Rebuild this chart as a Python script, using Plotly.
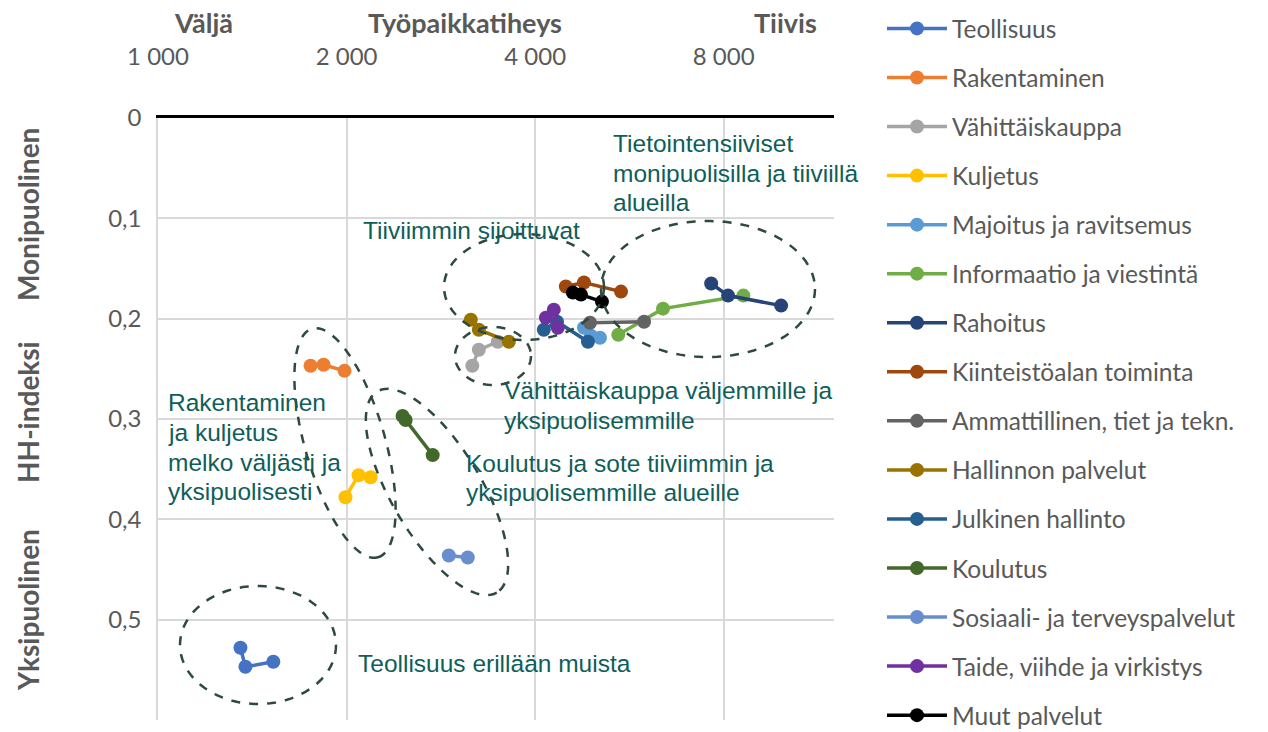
import math
import numpy as np
import plotly.graph_objects as go

# ---- data ----
series_names = [
    "Teollisuus", "Rakentaminen", "Vähittäiskauppa", "Kuljetus",
    "Majoitus ja ravitsemus", "Informaatio ja viestintä", "Rahoitus",
    "Kiinteistöalan toiminta", "Ammattillinen, tiet ja tekn.",
    "Hallinnon palvelut", "Julkinen hallinto", "Koulutus",
    "Sosiaali- ja terveyspalvelut", "Taide, viihde ja virkistys",
    "Muut palvelut",
]
series_colors = [
    "#4472C4", "#ED7D31", "#A5A5A5", "#FFC000", "#5B9BD5", "#70AD47",
    "#264478", "#9E480E", "#636363", "#997300", "#255E91", "#43682B",
    "#698ED0", "#7030A0", "#000000",
]
# työpaikkatiheys (x) per series
x_teollisuus = [1354, 1379, 1528]
x_rakentaminen = [1752, 1838, 1985]
x_vahittais = [3175, 3252, 3487]
x_kuljetus = [1992, 2090, 2185]
x_majoitus = [4786, 4911, 5077]
x_informaatio = [5430, 6400, 8600]
x_rahoitus = [7640, 8130, 9880]
x_kiinteisto = [4478, 4786, 5485]
x_ammatillinen = [4894, 5970]
x_hallinnon = [3158, 3252, 3632]
x_julkinen = [4130, 4335, 4857]
x_koulutus = [2457, 2485, 2745]
x_sosiaali = [2912, 3123]
x_taide = [4161, 4284, 4347]
x_muut = [4595, 4734, 5114]
# HH-indeksi (y) per series
y_teollisuus = [0.528, 0.547, 0.542]
y_rakentaminen = [0.247, 0.246, 0.252]
y_vahittais = [0.247, 0.231, 0.223]
y_kuljetus = [0.378, 0.356, 0.358]
y_majoitus = [0.209, 0.217, 0.219]
y_informaatio = [0.216, 0.190, 0.177]
y_rahoitus = [0.165, 0.177, 0.187]
y_kiinteisto = [0.168, 0.164, 0.173]
y_ammatillinen = [0.204, 0.203]
y_hallinnon = [0.201, 0.211, 0.223]
y_julkinen = [0.211, 0.203, 0.223]
y_koulutus = [0.297, 0.301, 0.336]
y_sosiaali = [0.436, 0.438]
y_taide = [0.199, 0.191, 0.209]
y_muut = [0.174, 0.176, 0.183]

xs = [x_teollisuus, x_rakentaminen, x_vahittais, x_kuljetus, x_majoitus,
      x_informaatio, x_rahoitus, x_kiinteisto, x_ammatillinen, x_hallinnon,
      x_julkinen, x_koulutus, x_sosiaali, x_taide, x_muut]
ys = [y_teollisuus, y_rakentaminen, y_vahittais, y_kuljetus, y_majoitus,
      y_informaatio, y_rahoitus, y_kiinteisto, y_ammatillinen, y_hallinnon,
      y_julkinen, y_koulutus, y_sosiaali, y_taide, y_muut]

x_tickvals = [1000, 2000, 4000, 8000]
y_tickvals = [0, 0.1, 0.2, 0.3, 0.4, 0.5, 0.6]

# ---- layout geometry ----
W, H = 1268, 732
ML, MR, MT, MB = 158, 434, 118, 12
PW, PH = W - ML - MR, H - MT - MB


def px(x):
    return (x - ML) / PW


def py(y):
    return (H - MB - y) / PH


fig = go.Figure()
for name, color, x, y in zip(series_names, series_colors, xs, ys):
    fig.add_trace(go.Scatter(
        x=x, y=y, name=name, mode="lines+markers",
        line=dict(color=color, width=3.5),
        marker=dict(color=color, size=14),
        legendgroup=name,
    ))

# ---- dashed ellipses (decoration) ----
ellipses = [
    (258, 645, 78, 59, 0.0),
    (345, 443, 119, 40, math.degrees(math.atan2(229, 66))),
    (437, 492, 117, 45, math.degrees(math.atan2(202, 120))),
    (524, 287, 80, 53, 0.0),
    (493, 356, 38, 29, 0.0),
    (708, 289, 107, 68, 0.0),
]
shapes = []
for cx, cy, a, b, ang in ellipses:
    t = np.linspace(0, 2 * np.pi, 90)
    th = math.radians(ang)
    ex = cx + a * np.cos(t) * math.cos(th) - b * np.sin(t) * math.sin(th)
    ey = cy + a * np.cos(t) * math.sin(th) + b * np.sin(t) * math.cos(th)
    path = "M " + " L ".join(f"{px(u):.5f},{py(v):.5f}" for u, v in zip(ex, ey)) + " Z"
    shapes.append(dict(type="path", path=path, xref="paper", yref="paper",
                       line=dict(color="#2E4A3E", width=2.5, dash="dash"),
                       layer="above"))

TEAL = "#0E5E5A"
GRAY = "#595959"
notes = [
    (["Tietointensiiviset", "monipuolisilla ja tiiviillä", "alueilla"], 611, [143, 173, 202]),
    (["Tiiviimmin sijoittuvat"], 361, [230]),
    (["Vähittäiskauppa väljemmille ja", "yksipuolisemmille"], 502, [390, 420]),
    (["Rakentaminen", "ja kuljetus", "melko väljästi ja", "yksipuolisesti"], 166, [402, 432, 462, 491]),
    (["Koulutus ja sote tiiviimmin ja", "yksipuolisemmille alueille"], 464, [463, 492]),
    (["Teollisuus erillään muista"], 356, [663]),
]
annotations = []
for lines, x0, ylist in notes:
    for text, y0 in zip(lines, ylist):
        annotations.append(dict(text=text, x=px(x0), y=py(y0), xref="paper", yref="paper",
                                xanchor="left", yanchor="middle", align="left", showarrow=False,
                                font=dict(family="Liberation Sans, Arial", size=24.5, color=TEAL)))

heads = [("Väljä", 203, 22), ("Työpaikkatiheys", 465, 22), ("Tiivis", 785, 22)]
for text, x0, y0 in heads:
    annotations.append(dict(text=f"<b>{text}</b>", x=px(x0), y=py(y0), xref="paper", yref="paper",
                            xanchor="center", yanchor="middle", showarrow=False,
                            font=dict(family="Lato", size=27, color=GRAY)))
sides = [("Monipuolinen", 28, 215), ("HH-indeksi", 28, 412), ("Yksipuolinen", 28, 610)]
for text, x0, y0 in sides:
    annotations.append(dict(text=f"<b>{text}</b>", x=px(x0), y=py(y0), xref="paper", yref="paper",
                            xanchor="center", yanchor="middle", showarrow=False, textangle=-90,
                            font=dict(family="Lato", size=28, color=GRAY)))

fig.update_layout(
    width=W, height=H,
    margin=dict(l=ML, r=MR, t=MT, b=MB, autoexpand=False),
    paper_bgcolor="white", plot_bgcolor="white",
    separators=", ",
    font=dict(family="Lato", color=GRAY),
    xaxis=dict(type="log", side="top", range=[3, math.log10(12000)],
               tickvals=x_tickvals, tickformat=",d",
               showgrid=True, gridcolor="#D9D9D9", gridwidth=1.5,
               showline=True, linecolor="black", linewidth=3,
               ticks="", ticklabelstandoff=40, automargin=False,
               tickfont=dict(family="Lato", size=24, color=GRAY), zeroline=False),
    yaxis=dict(range=[0.6, 0], tickvals=y_tickvals,
               showgrid=True, gridcolor="#D9D9D9", gridwidth=1.5,
               showline=True, linecolor="#D9D9D9", linewidth=1.5, mirror=False,
               ticks="", ticklabelstandoff=10, automargin=False,
               tickfont=dict(family="Lato", size=24, color=GRAY), zeroline=False),
    showlegend=True,
    legend=dict(x=px(882), y=py(6), xanchor="left", yanchor="top",
                font=dict(family="Lato", size=24.5, color=GRAY),
                itemwidth=60, tracegroupgap=14.2, traceorder="grouped",
                maxheight=1200, bgcolor="rgba(0,0,0,0)"),
    shapes=shapes,
    annotations=annotations,
)

fig.write_html(
    "out.html",
    config={"displayModeBar": False},
    post_script="document.body.style.margin='0';document.body.style.overflow='hidden';",
)
